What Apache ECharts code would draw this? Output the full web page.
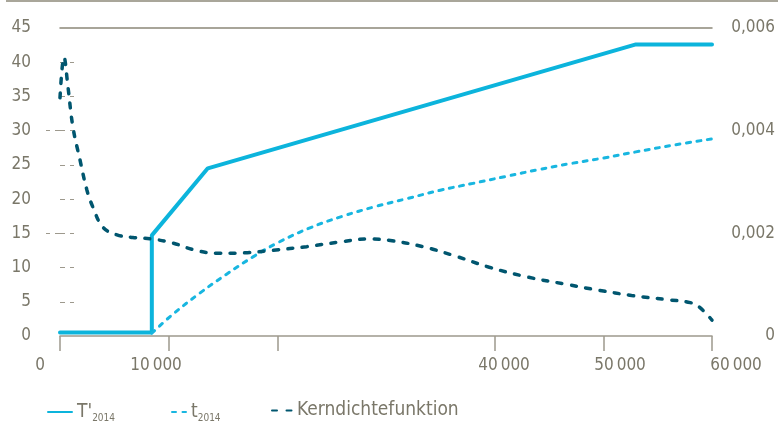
<!DOCTYPE html>
<html>
<head>
<meta charset="utf-8">
<script src="https://cdn.jsdelivr.net/npm/echarts@6/dist/echarts.min.js"></script>
<style>
  html, body { margin: 0; padding: 0; background: #fff; }
  #chart { width: 778px; height: 438px; }
</style>
</head>
<body>
<div id="chart"></div>
<script>
// x labels and ticks
const xTicks = [0, 10000, 20000, 40000, 50000, 60000];
const xLabels = [0, 10000, 40000, 50000, 60000];

// T'2014 (left axis)
const tPrimeX = [0, 8450, 8450, 13600, 53000, 60000];
const tPrimeY = [0.5, 0.5, 14.7, 24.5, 42.6, 42.6];

// t2014 (left axis)
const tX = [8450, 10400, 12900, 15300, 17800, 20000, 23000, 26000, 29000, 32000, 35000, 38000, 41000, 44000, 47000, 50000, 53000, 56500, 60000];
const tY = [0.4, 3.2, 6.3, 9.0, 11.6, 13.6, 15.8, 17.5, 18.9, 20.1, 21.3, 22.3, 23.3, 24.3, 25.2, 26.0, 26.9, 27.9, 28.8];

// Kerndichtefunktion (right axis)
const kdeX = [0, 370, 735, 1190, 1840, 2480, 3030, 3950, 5240, 6710, 8450, 10400, 12300, 14400, 17000, 19600, 22700, 25700, 28300, 30400, 33400, 36500, 39500, 43000, 46500, 49600, 52600, 55800, 58000, 58800, 60000];
const kdeY = [0.00464, 0.00543, 0.00485, 0.00407, 0.00343, 0.00284, 0.00251, 0.00212, 0.00197, 0.00192, 0.00189, 0.00181, 0.00168, 0.00161, 0.00162, 0.00167, 0.00174, 0.00183, 0.00189, 0.00186, 0.00174, 0.00155, 0.00134, 0.00115, 0.00101, 0.00089, 0.00079, 0.00071, 0.00065, 0.00057, 0.00031];

const FONT = "'Liberation Sans Narrow', 'DejaVu Sans Condensed', 'Roboto', sans-serif";
const TXT = '#7a7769';
const AX = '#9d998d';

const zip = (xs, ys) => xs.map((x, i) => [x, ys[i]]);
const fmtThousand = v => String(v).replace(/\B(?=(\d{3})+(?!\d))/g, '\u2009');

const chart = echarts.init(document.getElementById('chart'));

const legendRich = {
  m: { fontFamily: FONT, fontSize: 19, color: TXT, lineHeight: 22 },
  s: { fontFamily: FONT, fontSize: 10, color: TXT, lineHeight: 22, padding: [12, 0, 0, 0] }
};
const legendFmt = name => {
  if (name === "T'2014") return "{m|T'}{s|2014}";
  if (name === 't2014') return '{m|t}{s|2014}';
  return '{m|' + name + '}';
};
const legendBase = {
  top: 396, itemHeight: 12, formatter: legendFmt,
  itemStyle: { opacity: 0 },
  textStyle: { rich: legendRich }
};

chart.setOption({
  backgroundColor: '#fff',
  animation: false,
  textStyle: { fontFamily: FONT },
  graphic: [{
    type: 'line',
    shape: { x1: 6, y1: 1, x2: 778, y2: 1 },
    style: { stroke: '#8c8878', lineWidth: 1.5 }
  }],
  grid: [
    { left: 60, right: 65, top: 28, bottom: 102 },
    { left: 40, right: 42, top: 28, bottom: 102 }
  ],
  legend: [
    Object.assign({ data: ["T'2014"], left: 42, itemWidth: 24 }, legendBase),
    Object.assign({ data: ['t2014'], left: 166, itemWidth: 14 }, legendBase),
    Object.assign({ data: ['Kerndichtefunktion'], left: 266, itemWidth: 20 }, legendBase)
  ],
  xAxis: [
    {
      type: 'value', gridIndex: 0, min: 0, max: 60000, interval: 10000,
      axisLine: { show: true, lineStyle: { color: AX, width: 1.5 } },
      axisTick: { show: true, length: 15, customValues: xTicks, lineStyle: { color: AX, width: 1.5 } },
      axisLabel: { show: false },
      splitLine: { show: false }
    },
    {
      type: 'value', gridIndex: 0, position: 'top', min: 0, max: 60000,
      axisLine: { show: true, onZero: false, lineStyle: { color: '#8c8878', width: 1.5 } },
      axisTick: { show: false }, axisLabel: { show: false }, splitLine: { show: false }
    },
    {
      type: 'value', gridIndex: 1, min: 0, max: 60000, interval: 10000,
      axisLine: { show: false }, axisTick: { show: false }, splitLine: { show: false },
      axisLabel: { customValues: xLabels, margin: 21, color: TXT, fontSize: 17, fontFamily: FONT, formatter: fmtThousand }
    }
  ],
  yAxis: [
    {
      type: 'value', gridIndex: 0, min: 0, max: 45, interval: 5,
      axisLine: { show: false },
      axisTick: { show: true, inside: true, length: 14, customValues: [5, 10, 15, 20, 25, 30, 35, 40], lineStyle: { color: AX, width: 1, type: [5, 5] } },
      axisLabel: { margin: 29, color: TXT, fontSize: 17, fontFamily: FONT },
      splitLine: { show: false }
    },
    {
      type: 'value', gridIndex: 0, position: 'right', min: 0, max: 0.006, interval: 0.002,
      axisLine: { show: false },
      axisTick: { show: true, inside: true, length: 14, customValues: [0.002, 0.004], lineStyle: { color: AX, width: 1, type: [5, 5] } },
      axisLabel: {
        margin: 63, align: 'right', color: TXT, fontSize: 17, fontFamily: FONT,
        formatter: v => v === 0 ? '0' : v.toFixed(3).replace('.', ',')
      },
      splitLine: { show: false }
    },
    { type: 'value', gridIndex: 1, show: false, min: 0, max: 45 }
  ],
  series: [
    {
      name: "T'2014", type: 'line', xAxisIndex: 0, yAxisIndex: 0,
      data: zip(tPrimeX, tPrimeY), symbol: 'none',
      lineStyle: { color: '#0cb4dc', width: 4, cap: 'round' }, itemStyle: { color: '#0cb4dc' }
    },
    {
      name: 't2014', type: 'line', xAxisIndex: 0, yAxisIndex: 0,
      data: zip(tX, tY), symbol: 'none', smooth: 0.4,
      lineStyle: { color: '#18b6e0', width: 3, type: [4, 6.5], cap: 'round' }, itemStyle: { color: '#18b6e0' }
    },
    {
      name: 'Kerndichtefunktion', type: 'line', xAxisIndex: 0, yAxisIndex: 1,
      data: zip(kdeX, kdeY), symbol: 'none', smooth: 0.4,
      lineStyle: { color: '#00566f', width: 3.5, type: [5, 9.5], cap: 'round' }, itemStyle: { color: '#00566f' }
    }
  ]
});
</script>
</body>
</html>
